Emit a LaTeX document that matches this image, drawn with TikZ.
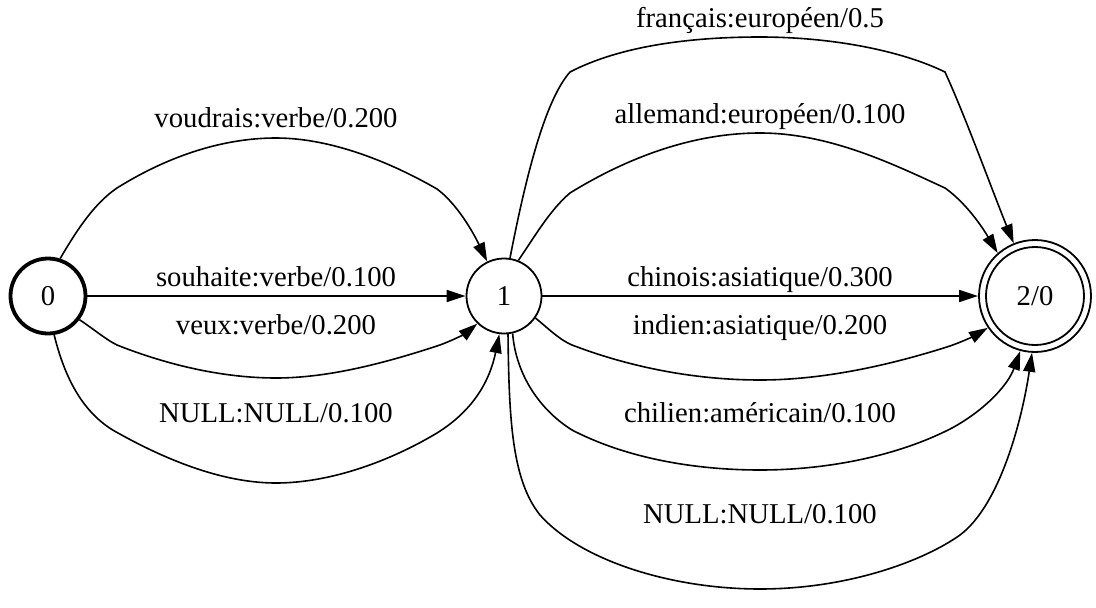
\documentclass[tikz,border=0pt]{standalone}
\usepackage{fontspec}
\setmainfont{Liberation Serif}
\usetikzlibrary{arrows.meta}
\begin{document}
\begin{tikzpicture}[x=1pt, y=-1pt,
  state/.style={draw, circle, inner sep=0pt, line width=1.8pt,
    font=\fontsize{28.7pt}{34pt}\selectfont},
  lbl/.style={inner sep=0pt, anchor=base, font=\fontsize{28.7pt}{34pt}\selectfont},
  arc/.style={line width=1.6pt, -{Triangle[length=19pt, width=12pt]}}]
\useasboundingbox (0,0) rectangle (1096,608);

% states
\node[state, line width=3.8pt, minimum size=75pt] (n0) at (48,296) {0};
\node[state, minimum size=75pt] (n1) at (504,296) {1};
\node[state, minimum size=112pt] (n2) at (1035,296) {};
\node[state, minimum size=98pt] (n2in) at (1035,296) {2/0};

% arcs from state 0 to state 1
\draw[arc] (n0.72) .. controls (78,228) and (95,203) .. (117,188)
  .. controls (165,158) and (220,138) .. (276,138)
  .. controls (332,138) and (392,163) .. (437,189)
  .. controls (456,203) and (472,230) .. (n1.116);
\draw[arc] (n0) -- (n1);
\draw[arc] (n0.-37) .. controls (95,330) and (105,339) .. (117,345)
  .. controls (170,366) and (225,378) .. (276,378)
  .. controls (330,378) and (388,362) .. (437,346)
  .. controls (452,341) and (466,333) .. (n1.226);
\draw[arc] (n0.-81) .. controls (66,383) and (86,416) .. (118,433)
  .. controls (170,462) and (225,483) .. (276,483)
  .. controls (332,483) and (392,460) .. (437,433)
  .. controls (474,410) and (490,380) .. (n1.263);

\node[lbl] (t1) at (276,127) {voudrais:verbe/0.200};
\node[lbl] (t2) at (276,286) {souhaite:verbe/0.100};
\node[lbl] (t3) at (276,334) {veux:verbe/0.200};
\node[lbl] (t4) at (276,422) {NULL:NULL/0.100};

% arcs from state 1 to state 2/0
\draw[arc] (n1.81) .. controls (528,165) and (547,98) .. (570,72)
  .. controls (620,46) and (690,37) .. (760,37)
  .. controls (830,37) and (900,50) .. (945,72)
  .. controls (966,118) and (992,190) .. (n2.112);
\draw[arc] (n1.68) .. controls (535,236) and (550,210) .. (570,193)
  .. controls (630,156) and (695,133) .. (760,133)
  .. controls (830,133) and (895,165) .. (945,188)
  .. controls (962,200) and (978,220) .. (n2.131);
\draw[arc] (n1) -- (n2);
\draw[arc] (n1.-35) .. controls (550,330) and (560,340) .. (572,345)
  .. controls (632,368) and (697,380) .. (760,380)
  .. controls (830,380) and (900,362) .. (950,346)
  .. controls (964,341) and (974,336) .. (n2.214);
\draw[arc] (n1.-77) .. controls (516,375) and (540,410) .. (572,430)
  .. controls (630,460) and (700,470) .. (760,470)
  .. controls (830,470) and (900,455) .. (952,428)
  .. controls (985,410) and (1008,385) .. (n2.-105);
\draw[arc] (n1.-84) .. controls (509,420) and (512,480) .. (540,515)
  .. controls (580,560) and (670,589) .. (760,589)
  .. controls (850,589) and (925,560) .. (960,535)
  .. controls (1000,505) and (1022,420) .. (n2.-93);

\node[lbl] (u1) at (760,27) {français:européen/0.5};
\node[lbl] (u2) at (760,123) {allemand:européen/0.100};
\node[lbl] (u3) at (760,286) {chinois:asiatique/0.300};
\node[lbl] (u4) at (760,334) {indien:asiatique/0.200};
\node[lbl] (u5) at (760,422) {chilien:américain/0.100};
\node[lbl] (u6) at (760,523) {NULL:NULL/0.100};
\end{tikzpicture}
\end{document}
